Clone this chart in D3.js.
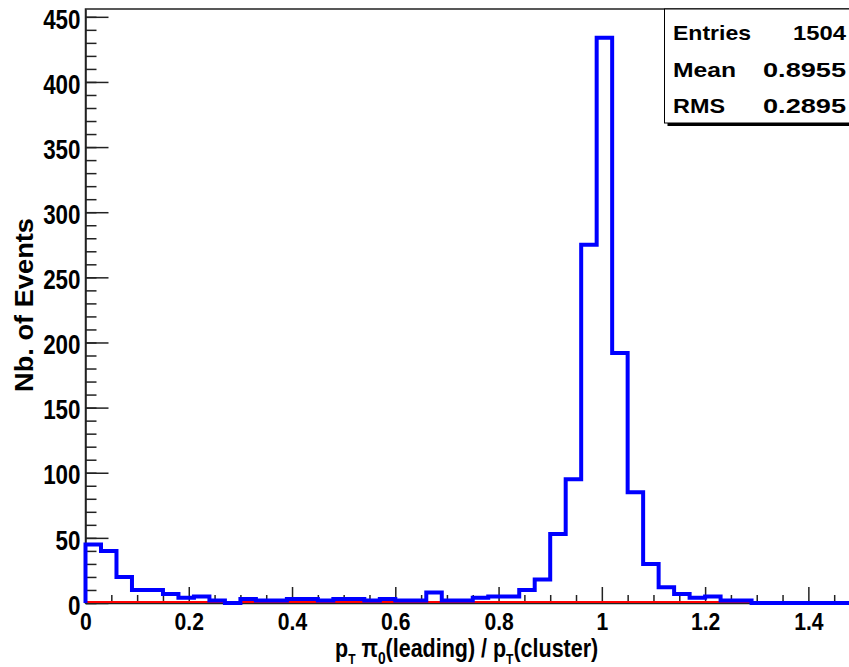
<!DOCTYPE html>
<html>
<head>
<meta charset="utf-8">
<script src="https://cdn.jsdelivr.net/npm/d3@7"></script>
<style>
  body { margin: 0; background: #fff; }
  svg { display: block; }
  text { font-family: "Liberation Sans", Arial, sans-serif; font-weight: bold; fill: #000; }
</style>
</head>
<body>
<div id="chart"></div>
<script>
// histogram: 50 bins of 0.03 from 0 to 1.5
const xMin = 0
const xMax = 1.5
const counts = [
  45, 40, 20, 10, 10, 7, 4, 5, 2, 0,
  3, 2, 2, 3, 3, 2, 3, 3, 2, 3,
  2, 2, 8, 2, 2, 4, 5, 5, 10, 18,
  53, 95, 275, 434, 192, 85, 30, 12, 7, 4,
  5, 2, 2, 0, 0, 0, 0, 0, 0, 0
]
// second (red) histogram, empty
const counts2 = [
  0, 0, 0, 0, 0, 0, 0, 0, 0, 0,
  0, 0, 0, 0, 0, 0, 0, 0, 0, 0,
  0, 0, 0, 0, 0, 0, 0, 0, 0, 0,
  0, 0, 0, 0, 0, 0, 0, 0, 0, 0,
  0, 0, 0, 0, 0, 0, 0, 0, 0, 0
]
const xTicks = [0, 0.2, 0.4, 0.6, 0.8, 1, 1.2, 1.4]
const xMinorTicks = [0.05, 0.1, 0.15, 0.25, 0.3, 0.35, 0.45, 0.5, 0.55, 0.65, 0.7, 0.75,
  0.85, 0.9, 0.95, 1.05, 1.1, 1.15, 1.25, 1.3, 1.35, 1.45]
const yTicks = [0, 50, 100, 150, 200, 250, 300, 350, 400, 450]
const statNames = ["Entries", "Mean", "RMS"]
const statValues = ["1504", "0.8955", "0.2895"]

const W = 849, H = 667
const margin = { top: 9, left: 85.5, right: -11, bottom: 64 }

const svg = d3.select("#chart").append("svg")
  .attr("width", W)
  .attr("height", H)

svg.append("rect").attr("width", W).attr("height", H).attr("fill", "#fff")

const x = d3.scaleLinear()
  .domain([xMin, xMax])
  .range([margin.left, W - margin.right])

const y = d3.scaleLinear()
  .domain([0, 456])
  .range([H - margin.bottom, margin.top])

const binW = (xMax - xMin) / counts.length

// step outline like ROOT "HIST"
function outline(vals) {
  const pts = [[xMin, 0]]
  vals.forEach((v, i) => {
    pts.push([xMin + i * binW, v])
    pts.push([xMin + (i + 1) * binW, v])
  })
  return pts
}

const line = d3.line()
  .x(d => x(d[0]))
  .y(d => y(d[1]))

// frame
svg.append("rect")
  .attr("x", x(xMin))
  .attr("y", y(456))
  .attr("width", x(xMax) - x(xMin))
  .attr("height", y(0) - y(456))
  .attr("fill", "none")
  .attr("stroke", "#222")
  .attr("stroke-width", 1.5)

// y axis
const gy = svg.append("g")
  .attr("transform", `translate(${x(xMin)},0)`)
  .call(d3.axisLeft(y).tickValues(yTicks).tickSize(-23).tickSizeOuter(0).tickPadding(5))
gy.select(".domain").attr("stroke", "#222").attr("stroke-width", 1.5)
gy.selectAll(".tick line").attr("stroke", "#222").attr("stroke-width", 1.5)
gy.selectAll(".tick text")
  .attr("x", null).attr("dy", "0.4em")
  .attr("transform", "translate(-5,0) scale(0.8,1)")
  .attr("text-anchor", "end")
  .style("font-size", "28px")

svg.append("g")
  .attr("transform", `translate(${x(xMin)},0)`)
  .call(d3.axisLeft(y).ticks(45).tickSize(-11).tickFormat(""))
  .call(g => g.select(".domain").remove())
  .call(g => g.selectAll(".tick line").attr("stroke", "#222").attr("stroke-width", 1.5))

// x axis
const gx = svg.append("g")
  .attr("transform", `translate(0,${y(0)})`)
  .call(d3.axisBottom(x).tickValues(xTicks).tickSize(-16).tickSizeOuter(0)
    .tickFormat(d => d3.format("~g")(d)))
gx.select(".domain").attr("stroke", "#222").attr("stroke-width", 1.5)
gx.selectAll(".tick line").attr("stroke", "#222").attr("stroke-width", 1.5)
gx.selectAll(".tick text")
  .attr("y", null).attr("dy", null)
  .attr("transform", `translate(0,${630 - y(0)}) scale(0.92,1)`)
  .style("font-size", "23px")

svg.append("g")
  .attr("transform", `translate(0,${y(0)})`)
  .call(d3.axisBottom(x).tickValues(xMinorTicks).tickSize(-8).tickFormat(""))
  .call(g => g.select(".domain").remove())
  .call(g => g.selectAll(".tick line").attr("stroke", "#222").attr("stroke-width", 1.5))

// histograms on top of the axes
svg.append("path")
  .attr("d", line(outline(counts2)))
  .attr("fill", "none")
  .attr("stroke", "#ff0000")
  .attr("stroke-width", 2)
  .attr("transform", "translate(0,-1)")

svg.append("path")
  .attr("d", line(outline(counts)))
  .attr("fill", "none")
  .attr("stroke", "#0000ff")
  .attr("stroke-width", 4)
  .attr("stroke-linejoin", "miter")

// axis titles
svg.append("text")
  .attr("transform", "translate(33,305) rotate(-90) scale(1,1.08)")
  .attr("text-anchor", "middle")
  .attr("textLength", 174)
  .attr("lengthAdjust", "spacingAndGlyphs")
  .style("font-size", "24px")
  .text("Nb. of Events")

const xt = svg.append("text")
  .attr("transform", "translate(335,657) scale(0.86,1)")
  .style("font-size", "25px")
xt.append("tspan").text("p")
xt.append("tspan").attr("dy", 7).style("font-size", "14px").text("T")
xt.append("tspan").attr("dy", -7).text("\u00a0\u03c0")
xt.append("tspan").attr("dy", 7).style("font-size", "16px").text("0")
xt.append("tspan").attr("dy", -7).text("(leading) / p")
xt.append("tspan").attr("dy", 7).style("font-size", "14px").text("T")
xt.append("tspan").attr("dy", -7).text("(cluster)")

// stats box
const bx = 664.5, by = y(456), bw = 200, bh = 114
svg.append("rect")
  .attr("x", bx + 3).attr("y", by + 3)
  .attr("width", bw).attr("height", bh)
  .attr("fill", "#000")
svg.append("rect")
  .attr("x", bx).attr("y", by)
  .attr("width", bw).attr("height", bh)
  .attr("fill", "#fff")
  .attr("stroke", "#000")
  .attr("stroke-width", 1)

const nameLen = { Entries: 78, Mean: 63, RMS: 52 }
const rowY = d3.scalePoint().domain(statNames).range([40, 113])
svg.selectAll("text.sname")
  .data(statNames)
  .join("text")
  .attr("class", "sname")
  .attr("x", 673)
  .attr("y", d => rowY(d))
  .attr("textLength", d => nameLen[d])
  .attr("lengthAdjust", "spacingAndGlyphs")
  .style("font-size", "21px")
  .text(d => d)
svg.selectAll("text.sval")
  .data(statValues)
  .join("text")
  .attr("class", "sval")
  .attr("x", 846)
  .attr("y", (d, i) => rowY(statNames[i]))
  .attr("text-anchor", "end")
  .attr("textLength", d => d.length === 4 ? 53 : 83)
  .attr("lengthAdjust", "spacingAndGlyphs")
  .style("font-size", "21px")
  .text(d => d)
</script>
</body>
</html>
